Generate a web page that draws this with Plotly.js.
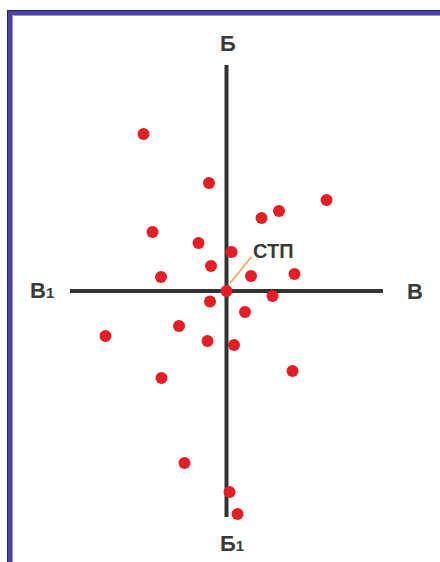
<!DOCTYPE html>
<html>
<head>
<meta charset="utf-8">
<script src="https://cdn.plot.ly/plotly-3.0.1.min.js"></script>
<style>
  html, body { margin: 0; padding: 0; background: #fff; }
  #wrap { position: relative; width: 440px; height: 562px; overflow: hidden; }
  #chart { position: absolute; left: 0; top: 0; width: 440px; height: 562px; }
  #frame {
    position: absolute; left: 8px; top: 11px; width: 600px; height: 700px;
    border-top: 4px solid #4d43a3; border-left: 4px solid #4d43a3;
    box-shadow: -1px -1px 0 #24205c, inset 1px 1px 0 #9a94d4;
    pointer-events: none; z-index: 5;
  }
</style>
</head>
<body>
<div id="wrap">
  <div id="chart"></div>
  <div id="frame"></div>
</div>
<script>
// Points of impact relative to the centre of impact (СТП), in scale units
const hitX = [-8.3, -1.75, 10.0, 5.25, 3.5, -7.4, -2.8, 0.5, -1.55, 2.45, 6.8, -6.55, 0.0,
              4.6, -1.65, 1.85, -4.75, -12.1, -1.9, 0.75, 6.6, -6.5, -4.2, 0.3, 1.1];
const hitY = [15.7, 10.8, 9.1, 8.0, 7.3, 5.9, 4.8, 3.9, 2.5, 1.5, 1.7, 1.4, 0.0,
              -0.5, -1.05, -2.1, -3.5, -4.5, -5.0, -5.4, -8.0, -8.7, -17.2, -20.1, -22.3];

// Dispersion axes: В1–В (direction) and Б–Б1 (range)
const axisDirX = [-15.65, 15.65];
const axisDirY = [0, 0];
const axisRngX = [0, 0];
const axisRngY = [22.6, -22.6];

// Axis end labels
const endLabels = ['Б', 'Б<span style="font-size:15px">1</span>',
                   'В<span style="font-size:15px">1</span>', 'В'];
const centreLabel = 'СТП';

const axisLine = { color: '#333333', width: 4 };

const traces = [
  { x: axisDirX, y: axisDirY, mode: 'lines', line: axisLine, hoverinfo: 'skip' },
  { x: axisRngX, y: axisRngY, mode: 'lines', line: axisLine, hoverinfo: 'skip' },
  { x: hitX, y: hitY, mode: 'markers',
    marker: { color: '#e31e25', size: 12, line: { width: 0 } } }
];

const labelFont = { family: 'Liberation Sans, Arial, sans-serif', size: 22, color: '#3a3a3a', weight: 'bold' };

const annotations = [
  { x: 0.1, y: axisRngY[0] + 2.2, text: '<b>' + endLabels[0] + '</b>' },
  { x: 0.55, y: axisRngY[1] - 2.65, text: '<b>' + endLabels[1] + '</b>' },
  { x: axisDirX[0] - 2.8, y: 0.1, text: '<b>' + endLabels[2] + '</b>' },
  { x: axisDirX[1] + 3.15, y: 0, text: '<b>' + endLabels[3] + '</b>' },
  { x: 4.65, y: 4.0, text: '<b>' + centreLabel + '</b>', font: Object.assign({}, labelFont, { size: 20 }) }
].map(a => Object.assign({ xref: 'x', yref: 'y', showarrow: false, font: labelFont,
                           xanchor: 'center', yanchor: 'middle' }, a));

const layout = {
  width: 440, height: 562,
  margin: { l: 0, r: 0, t: 0, b: 0 },
  paper_bgcolor: '#ffffff', plot_bgcolor: '#ffffff',
  showlegend: false,
  xaxis: { range: [-22.65, 21.35], visible: false, fixedrange: true },
  yaxis: { range: [-27.1, 29.1], visible: false, fixedrange: true },
  shapes: [
    // leader from the centre of impact to its label
    { type: 'line', xref: 'x', yref: 'y', x0: 0.35, y0: 0.77, x1: 2.5, y1: 3.43,
      line: { color: '#f4a14e', width: 1.6 }, layer: 'below' }
  ],
  annotations: annotations
};

Plotly.newPlot('chart', traces, layout, { displayModeBar: false, staticPlot: true });
</script>
</body>
</html>
